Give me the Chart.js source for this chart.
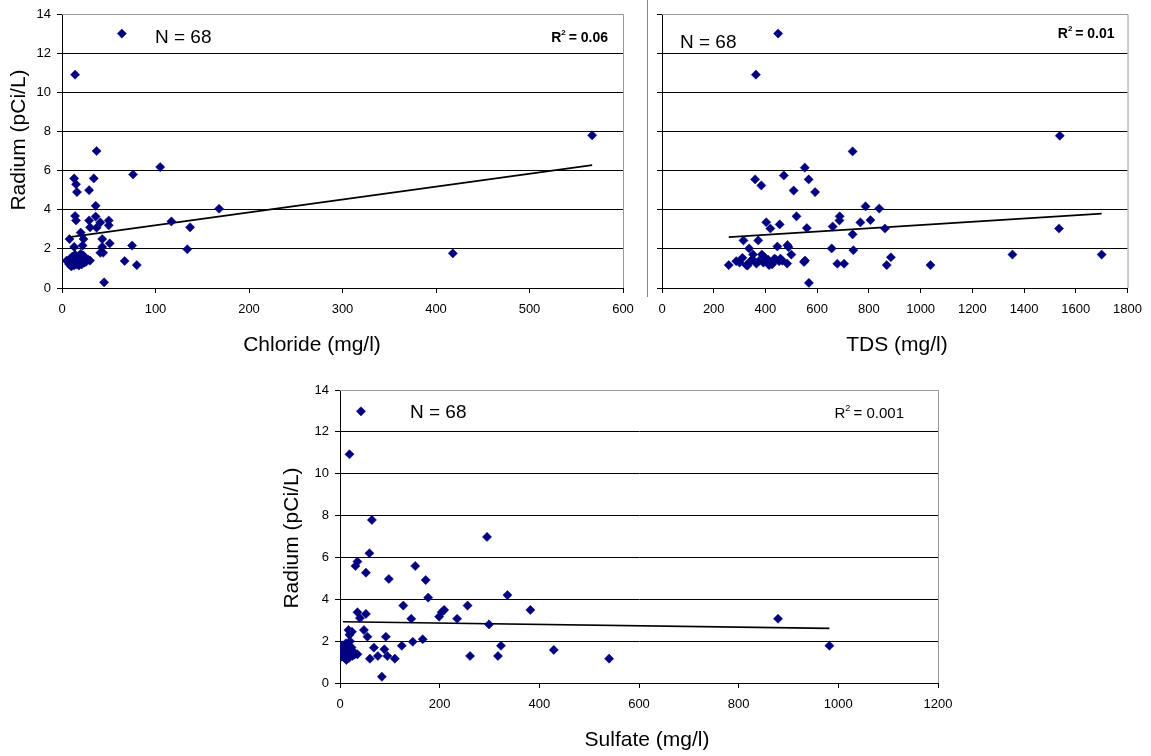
<!DOCTYPE html>
<html>
<head>
<meta charset="utf-8">
<title>Radium vs Chloride, TDS and Sulfate</title>
<script src="https://cdn.jsdelivr.net/npm/chart.js"></script>
<style>
  body { margin: 0; background: #fff; }
  #wrap { position: relative; width: 1151px; height: 756px; }
  canvas { position: absolute; }
  #sep { position: absolute; left: 647px; top: 0; width: 0; height: 297px; border-left: 1px solid #888; }
</style>
</head>
<body>
<div id="wrap">
  <canvas id="chloride" width="648" height="360" style="left:0;top:0"></canvas>
  <canvas id="tds" width="503" height="360" style="left:648px;top:0"></canvas>
  <canvas id="sulfate" width="700" height="386" style="left:270px;top:370px"></canvas>
  <div id="sep"></div>
</div>
<script>
// --- Data (Radium in pCi/L) ---
const chlorideX = [64, 14, 37, 105, 76, 13, 34, 15, 16, 29, 36, 168, 14, 36, 15, 29, 41, 50, 117, 37,
  30, 50, 137, 20, 8, 23, 43, 22, 13, 75, 43, 51, 134, 41, 44, 67, 80, 45, 418, 567,
  5, 7, 8, 9, 10, 10, 11, 12, 12, 13, 14, 14, 15, 16, 17, 18, 18, 19, 20, 21, 22, 23, 24, 25, 26, 28, 30, 20];
const chlorideY = [13, 10.9, 7.0, 6.18, 5.8, 5.6, 5.6, 5.3, 4.9, 5.0, 4.2, 4.05, 3.68, 3.65, 3.45, 3.45, 3.35, 3.45, 3.4, 3.08,
  3.1, 3.2, 3.1, 2.83, 2.5, 2.5, 2.5, 2.17, 2.1, 2.17, 2.1, 2.28, 1.98, 1.8, 1.8, 1.38, 1.17, 0.29, 1.77, 7.8,
  1.4, 1.3, 1.2, 1.5, 1.1, 1.35, 1.6, 1.25, 1.45, 1.15, 1.7, 1.35, 1.5, 1.2, 1.4, 1.6, 1.15, 1.3, 1.5, 1.2, 1.4, 1.65, 1.3, 1.5, 1.35, 1.45, 1.4, 1.75];

const tdsX = [449, 363, 737, 552, 471, 360, 567, 384, 509, 592, 787, 840, 520, 687, 686, 403, 767, 806, 455, 419,
  660, 560, 862, 737, 258, 315, 372, 337, 446, 485, 489, 656, 740, 287, 311, 326, 342, 352, 374, 386,
  414, 435, 458, 453, 500, 484, 549, 568, 678, 704, 869, 885, 1038, 1538, 1535, 1355, 1700,
  331, 350, 394, 392, 425, 440, 465, 553, 300, 365, 410];
const tdsY = [13.0, 10.9, 6.98, 6.15, 5.75, 5.55, 5.55, 5.24, 4.98, 4.9, 4.17, 4.06, 3.66, 3.66, 3.45, 3.36, 3.35, 3.47, 3.25, 3.04,
  3.14, 3.06, 3.04, 2.74, 1.17, 2.43, 2.43, 2.02, 2.12, 2.19, 2.09, 2.02, 1.93, 1.37, 1.54, 1.17, 1.37, 1.71, 1.37, 1.71,
  1.17, 1.5, 1.5, 1.37, 1.71, 1.25, 1.33, 0.26, 1.24, 1.24, 1.17, 1.57, 1.17, 7.78, 3.04, 1.71, 1.71,
  1.15, 1.45, 1.6, 1.3, 1.2, 1.45, 1.4, 1.4, 1.3, 1.25, 1.45];

const sulfateX = [42, 19, 64, 59, 35, 31, 52, 98, 151, 172, 177, 127, 35, 52, 40, 143, 199, 204, 209, 235,
  256, 295, 299, 336, 382, 48, 55, 17, 19, 20, 92, 68, 124, 146, 166, 60, 76, 89, 95, 110,
  84, 261, 317, 323, 429, 35, 879, 982, 540,
  3, 5, 7, 8, 10, 11, 13, 14, 15, 17, 18, 20, 21, 23, 25, 27, 29, 12, 24];
const sulfateY = [12.98, 10.93, 7.79, 6.2, 5.8, 5.59, 5.27, 4.97, 5.59, 4.92, 4.08, 3.7, 3.38, 3.3, 3.1, 3.07, 3.17, 3.38, 3.49, 3.07,
  3.7, 6.98, 2.8, 4.2, 3.49, 2.53, 2.21, 2.53, 2.3, 2.0, 2.21, 1.69, 1.78, 1.97, 2.09, 1.16, 1.29, 1.61, 1.29, 1.16,
  0.3, 1.29, 1.29, 1.78, 1.58, 1.37, 3.07, 1.78, 1.16,
  1.26, 1.8, 1.74, 1.5, 1.42, 1.15, 1.1, 1.6, 1.35, 1.78, 1.2, 1.58, 1.4, 1.7, 1.3, 1.5, 1.35, 1.9, 2.45];

// linear trend line end points as drawn
const chlorideTrendX = [8, 567];
const chlorideTrendY = [2.6, 6.28];
const tdsTrendX = [258, 1700];
const tdsTrendY = [2.6, 3.8];
const sulfateTrendX = [6, 982];
const sulfateTrendY = [2.93, 2.61];

const FONT = '"Liberation Sans", Arial, sans-serif';
const NAVY = '#000080';

function pts(xs, ys) {
  return xs.map((x, i) => ({ x: x, y: ys[i] }));
}

// frame + text annotations + axis titles
const notes = {
  id: 'notes',
  afterDraw(chart, args, o) {
    const ctx = chart.ctx;
    const a = chart.chartArea;
    ctx.save();
    ctx.strokeStyle = '#999';
    ctx.lineWidth = 1;
    ctx.beginPath();
    ctx.moveTo(a.left, a.top + 0.5);
    ctx.lineTo(a.right + 0.5, a.top + 0.5);
    ctx.lineTo(a.right + 0.5, a.bottom);
    ctx.stroke();

    ctx.fillStyle = '#000';
    ctx.textBaseline = 'middle';
    ctx.textAlign = 'left';
    ctx.font = '19px ' + FONT;
    ctx.fillText('N = 68', a.left + o.nx, a.top + o.ny);

    // R squared, right aligned
    const big = (o.bold ? 'bold ' : '') + o.rSize + 'px ' + FONT;
    const small = (o.bold ? 'bold ' : '') + Math.round(o.rSize * 0.6) + 'px ' + FONT;
    const rest = ' = ' + o.r2;
    ctx.font = big;
    const w1 = ctx.measureText('R').width;
    const w3 = ctx.measureText(rest).width;
    ctx.font = small;
    const w2 = ctx.measureText('2').width;
    let x = a.right + o.rx - (w1 + w2 + w3);
    const y = a.top + o.ry;
    ctx.font = big;
    ctx.fillText('R', x, y);
    ctx.font = small;
    ctx.fillText('2', x + w1, y - o.rSize * 0.35);
    ctx.font = big;
    ctx.fillText(rest, x + w1 + w2 - 1, y);

    // axis titles
    ctx.font = '21px ' + FONT;
    ctx.textAlign = 'center';
    ctx.fillText(o.xTitle, o.xtx, o.xty);
    if (o.yTitle) {
      ctx.translate(o.ytx, o.yty);
      ctx.rotate(-Math.PI / 2);
      ctx.fillText(o.yTitle, 0, 0);
    }
    ctx.restore();
  }
};

function makeChart(id, xs, ys, tx, ty, cfg) {
  return new Chart(document.getElementById(id), {
    type: 'scatter',
    data: {
      datasets: [{
        data: pts(xs, ys),
        pointStyle: 'rectRot',
        pointRadius: 4.6,
        pointBackgroundColor: NAVY,
        pointBorderColor: NAVY,
        pointBorderWidth: 0.5
      }, {
        data: pts(tx, ty),
        showLine: true,
        borderColor: '#000',
        borderWidth: 1.6,
        pointRadius: 0
      }]
    },
    options: {
      responsive: false,
      animation: false,
      devicePixelRatio: 1,
      layout: { padding: { top: cfg.top, right: cfg.right, left: 0, bottom: 0 } },
      plugins: {
        legend: { display: false },
        tooltip: { enabled: false },
        notes: cfg.notes
      },
      scales: {
        x: {
          type: 'linear',
          min: 0, max: cfg.xMax,
          afterFit: s => { s.height = cfg.xH; },
          ticks: {
            stepSize: cfg.xStep, color: '#000', padding: 9, maxRotation: 0,
            font: { family: FONT, size: 13 },
            callback: v => String(v)
          },
          grid: { drawOnChartArea: false, tickLength: 5, tickColor: '#000' },
          border: { color: '#000', width: 1 }
        },
        y: {
          min: 0, max: 14,
          afterFit: s => { s.width = cfg.yW; },
          ticks: { stepSize: 2, display: cfg.yLabels, color: '#000', padding: 6, font: { family: FONT, size: 13 } },
          grid: {
            color: c => (c.tick && c.tick.value === 14 ? '#999' : '#000'),
            tickColor: '#000',
            tickLength: 5
          },
          border: { color: '#000', width: 1 }
        }
      }
    },
    plugins: [notes]
  });
}

makeChart('chloride', chlorideX, chlorideY, chlorideTrendX, chlorideTrendY, {
  xMax: 600, xStep: 100, top: 14, right: 25, xH: 72, yW: 62, yLabels: true,
  notes: { nx: 93, ny: 24, rx: -14, ry: 24, r2: '0.06', bold: true, rSize: 14,
    xTitle: 'Chloride (mg/l)', xtx: 312, xty: 345, yTitle: 'Radium (pCi/L)', ytx: 19, yty: 140 }
});

makeChart('tds', tdsX, tdsY, tdsTrendX, tdsTrendY, {
  xMax: 1800, xStep: 200, top: 14, right: 19, xH: 72, yW: 14, yLabels: false,
  notes: { nx: 18, ny: 29, rx: -12, ry: 20, r2: '0.01', bold: true, rSize: 14,
    xTitle: 'TDS (mg/l)', xtx: 249, xty: 345 }
});

makeChart('sulfate', sulfateX, sulfateY, sulfateTrendX, sulfateTrendY, {
  xMax: 1200, xStep: 200, top: 20, right: 32, xH: 73, yW: 70, yLabels: true,
  notes: { nx: 70, ny: 23, rx: -33, ry: 24, r2: '0.001', bold: false, rSize: 15,
    xTitle: 'Sulfate (mg/l)', xtx: 377, xty: 370, yTitle: 'Radium (pCi/L)', ytx: 22, yty: 168 }
});
</script>
</body>
</html>
